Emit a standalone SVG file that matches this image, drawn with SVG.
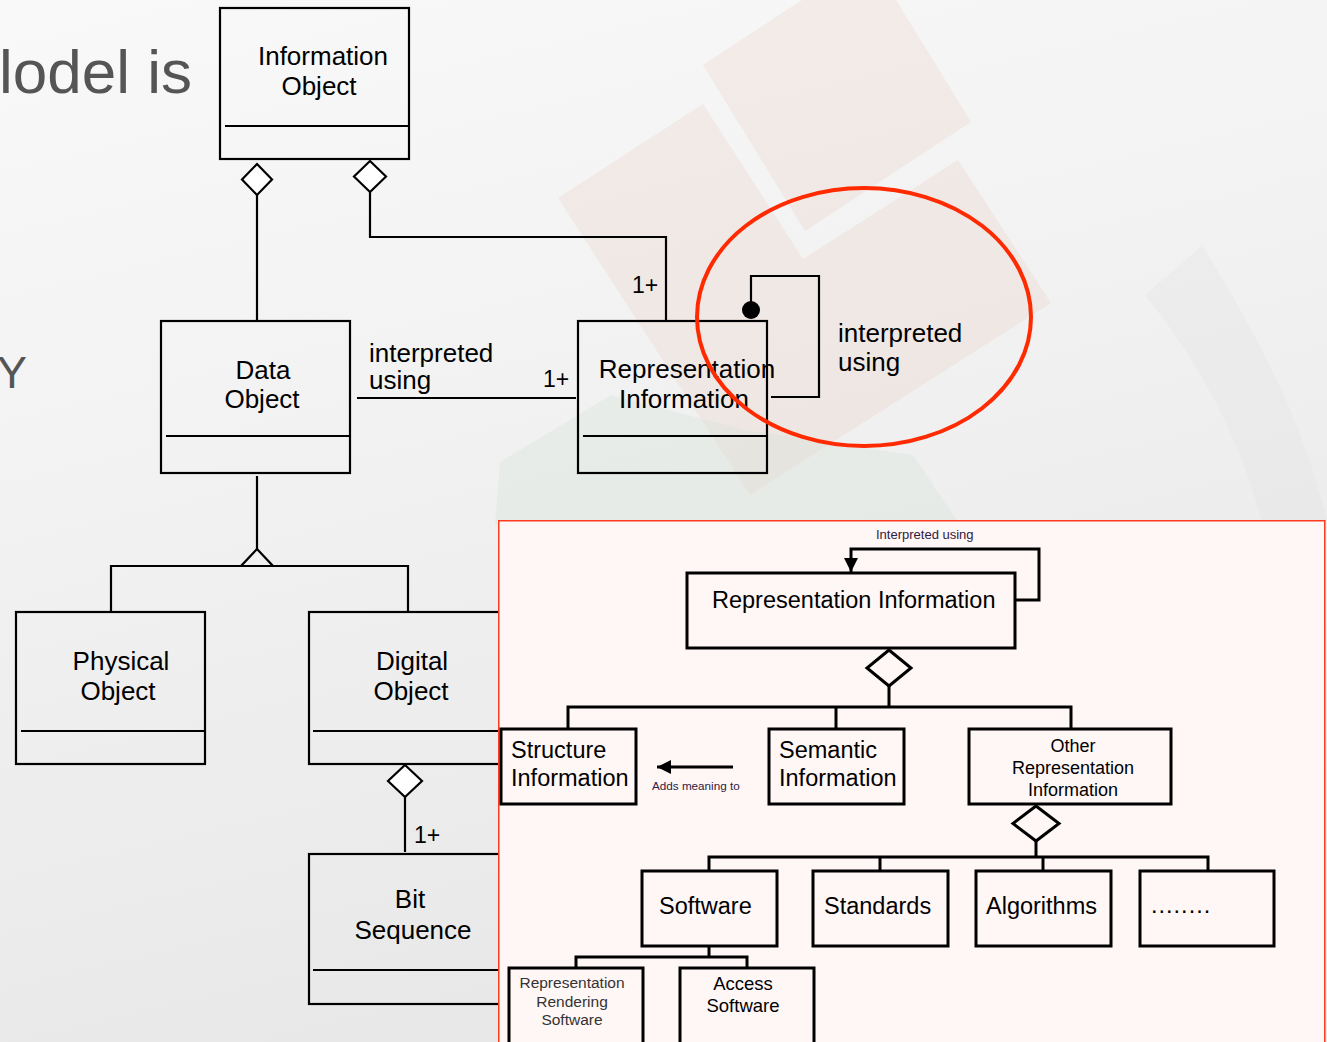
<svg xmlns="http://www.w3.org/2000/svg" width="1327" height="1042" viewBox="0 0 1327 1042">
<defs>
<linearGradient id="bg" x1="0" y1="0" x2="0.3" y2="1">
<stop offset="0" stop-color="#f9f9f9"/>
<stop offset="0.5" stop-color="#f1f1f1"/>
<stop offset="1" stop-color="#e8e8e8"/>
</linearGradient>
<marker id="arrow" viewBox="0 0 14 14" refX="14" refY="7" markerWidth="14" markerHeight="14" markerUnits="userSpaceOnUse" orient="auto">
<path d="M0,0 L14,7 L0,14 Z" fill="#000"/>
</marker>
<style>
.box{fill:none;stroke:#000;stroke-width:2.2}
.div{stroke:#000;stroke-width:2.2}
.ln{fill:none;stroke:#000;stroke-width:2.2}
.dia{fill:#fff;stroke:#000;stroke-width:2.2}
.ibox{fill:none;stroke:#000;stroke-width:3}
.iln{fill:none;stroke:#000;stroke-width:3}
.idia{fill:#fff6f6;stroke:#000;stroke-width:3}
.t{font-family:"Liberation Sans",Arial,Helvetica,sans-serif;font-size:26px;fill:#000}
.tc{text-anchor:middle}
.m{font-size:23px}
.it{font-family:"Liberation Sans",Arial,sans-serif;font-size:23.5px;fill:#000}
.f18{font-size:18px}
.f185{font-size:18.5px}
.f155{font-size:15.5px;fill:#333}
.lbl{font-family:"Liberation Sans",Arial,sans-serif;fill:#302040}
.slide{font-family:"Liberation Sans",Arial,sans-serif;fill:#555}
.wm{opacity:0.3}
</style>
</defs>

<g id="background">
<rect x="0" y="0" width="1327" height="1042" fill="url(#bg)"/>
<polygon class="wm" points="703,65 869,-44 971,122 805,231" fill="#eccfc8"/>
<polygon class="wm" points="558,198 703,104 803,259 958,160 1051,303 750,495" fill="#eccfc8"/>
<polygon class="wm" points="500,462 611,395 745,430 913,455 960,525 495,525" fill="#d4e2d3"/>
<path class="wm" d="M1145,295 L1202,246 Q1300,400 1327,522 L1262,522 Q1230,400 1145,295 Z" fill="#e0e0e0"/>
<text class="slide" x="-1" y="93" font-size="62">lodel is</text>
<text class="slide" x="-3" y="388" font-size="45">Y</text>
</g>

<g id="connectors">
<path class="ln" d="M257,195 V321"/>
<path class="ln" d="M370,192 V237 H666 V321"/>
<path class="ln" d="M357,398 H576"/>
<path class="ln" d="M751,310 V276 H819 V397 H771"/>
<circle cx="751" cy="310" r="9" fill="#000"/>
<path class="ln" d="M257,476 V550"/>
<path class="ln" d="M111,612 V566 H408 V612"/>
<polygon class="ln" points="257,549 273,566 241,566" fill="#eeeeee"/>
<path class="ln" d="M405,797 V852"/>
<polygon class="dia" points="257,164 272,179.5 257,195 242,179.5"/>
<polygon class="dia" points="370,161 386,176.5 370,192 354,176.5"/>
<polygon class="dia" points="405,765 422,781 405,797 388,781"/>
<text class="t m" x="632" y="293">1+</text>
<text class="t" x="369" y="362">interpreted</text>
<text class="t" x="369" y="389">using</text>
<text class="t m" x="543" y="387">1+</text>
<text class="t" x="838" y="342">interpreted</text>
<text class="t" x="838" y="371">using</text>
<text class="t m" x="414" y="843">1+</text>
</g>

<g id="information-object">
<rect class="box" x="220" y="8" width="189" height="151"/>
<line class="div" x1="225" y1="126" x2="409" y2="126"/>
<text class="t tc" x="323" y="65">Information</text>
<text class="t tc" x="319" y="95">Object</text>
</g>

<g id="data-object">
<rect class="box" x="161" y="321" width="189" height="152"/>
<line class="div" x1="166" y1="436" x2="350" y2="436"/>
<text class="t tc" x="263" y="379">Data</text>
<text class="t tc" x="262" y="408">Object</text>
</g>

<g id="representation-information">
<rect class="box" x="578" y="321" width="189" height="152"/>
<line class="div" x1="583" y1="436" x2="767" y2="436"/>
<text class="t tc" x="687" y="378">Representation</text>
<text class="t tc" x="684" y="408">Information</text>
</g>

<g id="physical-object">
<rect class="box" x="16" y="612" width="189" height="152"/>
<line class="div" x1="21" y1="731" x2="205" y2="731"/>
<text class="t tc" x="121" y="670">Physical</text>
<text class="t tc" x="118" y="700">Object</text>
</g>

<g id="digital-object">
<rect class="box" x="309" y="612" width="200" height="152"/>
<line class="div" x1="313" y1="731" x2="509" y2="731"/>
<text class="t tc" x="412" y="670">Digital</text>
<text class="t tc" x="411" y="700">Object</text>
</g>

<g id="bit-sequence">
<rect class="box" x="309" y="854" width="200" height="150"/>
<line class="div" x1="313" y1="970" x2="509" y2="970"/>
<text class="t tc" x="410" y="908">Bit</text>
<text class="t tc" x="413" y="939">Sequence</text>
</g>

<g id="inset">
<rect x="498.75" y="520.75" width="826" height="530" fill="#fff6f6" stroke="#ff3b1f" stroke-width="1.5"/>

<g id="inset-connectors">
<path class="iln" d="M1015,600 H1039 V549 H851 V572" marker-end="url(#arrow)"/>
<text class="lbl" x="876" y="539" font-size="13">Interpreted using</text>
<path class="iln" d="M889,686 V707"/>
<path class="iln" d="M568,729 V707 H1071 V729"/>
<path class="iln" d="M836,707 V729"/>
<polygon class="idia" points="889,650 911,668 889,686 867,668"/>
<path class="iln" d="M733,767 H657" marker-end="url(#arrow)"/>
<text class="lbl" x="652" y="790" font-size="11.7">Adds meaning to</text>
<path class="iln" d="M1036,841 V857"/>
<path class="iln" d="M709,871 V857 H1208 V871"/>
<path class="iln" d="M880,857 V871"/>
<path class="iln" d="M1043,857 V871"/>
<polygon class="idia" points="1036,806 1059,823.5 1036,841 1013,823.5"/>
<path class="iln" d="M709,946 V957"/>
<path class="iln" d="M576,968 V957 H747 V968"/>
</g>

<g id="ri-representation-information">
<rect class="ibox" x="687" y="573" width="328" height="75"/>
<text class="it" x="712" y="608">Representation Information</text>
</g>
<g id="ri-structure-information">
<rect class="ibox" x="501" y="729" width="135" height="75"/>
<text class="it" x="511" y="758">Structure</text>
<text class="it" x="511" y="786">Information</text>
</g>
<g id="ri-semantic-information">
<rect class="ibox" x="769" y="729" width="135" height="75"/>
<text class="it" x="779" y="758">Semantic</text>
<text class="it" x="779" y="786">Information</text>
</g>
<g id="ri-other">
<rect class="ibox" x="969" y="729" width="202" height="75"/>
<text class="it tc f18" x="1073" y="752">Other</text>
<text class="it tc f18" x="1073" y="774">Representation</text>
<text class="it tc f18" x="1073" y="796">Information</text>
</g>
<g id="ri-software">
<rect class="ibox" x="642" y="871" width="135" height="75"/>
<text class="it" x="659" y="914">Software</text>
</g>
<g id="ri-standards">
<rect class="ibox" x="813" y="871" width="135" height="75"/>
<text class="it" x="824" y="914">Standards</text>
</g>
<g id="ri-algorithms">
<rect class="ibox" x="976" y="871" width="135" height="75"/>
<text class="it" x="986" y="914">Algorithms</text>
</g>
<g id="ri-more">
<rect class="ibox" x="1140" y="871" width="134" height="75"/>
<text class="it" x="1151" y="913" letter-spacing="1">........</text>
</g>
<g id="ri-rendering-software">
<rect class="ibox" x="509" y="968" width="134" height="90"/>
<text class="it tc f155" x="572" y="988">Representation</text>
<text class="it tc f155" x="572" y="1007">Rendering</text>
<text class="it tc f155" x="572" y="1025">Software</text>
</g>
<g id="ri-access-software">
<rect class="ibox" x="680" y="968" width="134" height="90"/>
<text class="it tc f185" x="743" y="990">Access</text>
<text class="it tc f185" x="743" y="1012">Software</text>
</g>
</g>

<g id="highlight">
<ellipse cx="864" cy="317" rx="167" ry="129" fill="none" stroke="#ff2a00" stroke-width="4"/>
</g>
</svg>
